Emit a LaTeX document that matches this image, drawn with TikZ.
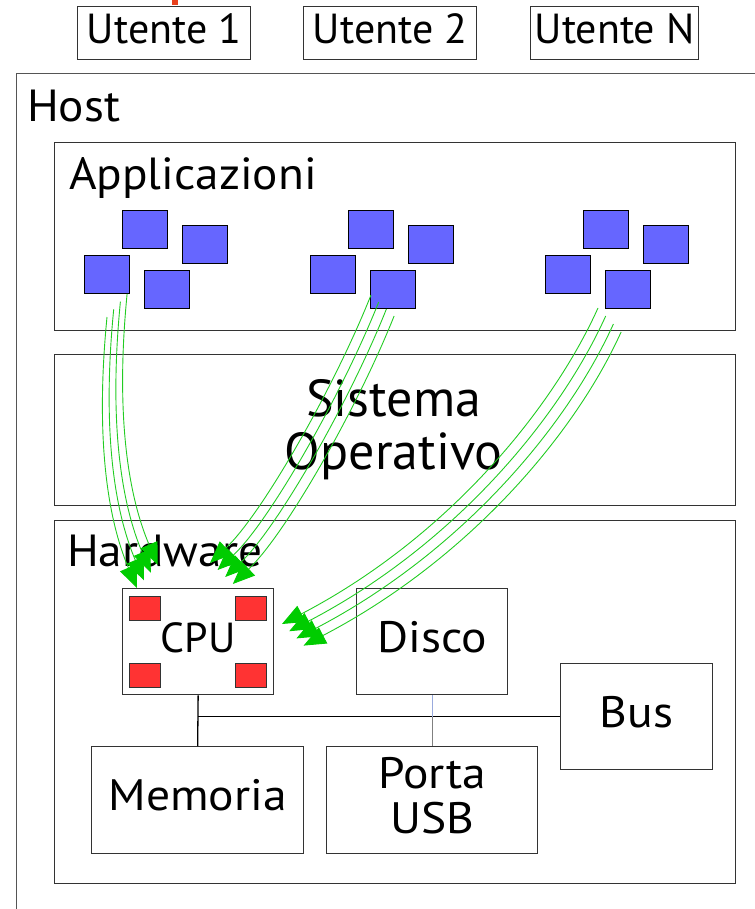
\documentclass[tikz,border=0pt]{standalone}
\usepackage{fontspec}
\setmainfont{PT Sans}
\newfontfamily\titlesans[FakeStretch=1.05]{PT Sans}
\newfontfamily\partsans[FakeStretch=1.08]{PT Sans}
\usetikzlibrary{arrows.meta}

\definecolor{boxline}{HTML}{333333}
\definecolor{hostline}{HTML}{555555}
\definecolor{appblue}{HTML}{6666FF}
\definecolor{cpured}{HTML}{FF3333}
\definecolor{flowline}{HTML}{22CC22}
\definecolor{flowhead}{HTML}{00CC00}
\definecolor{linkblue}{HTML}{99AADD}
\definecolor{marker}{HTML}{E8401C}

\tikzset{
  pane/.style={draw=boxline, line width=1.3pt, inner sep=0pt, anchor=north west},
  labelbox/.style={pane, font=\fontsize{42}{45}\selectfont, text height=30pt, text depth=9pt},
  partbox/.style={pane, font=\partsans\fontsize{44}{45}\selectfont, text height=31pt, text depth=10pt},
  title/.style={anchor=base west, inner sep=0pt, font=\titlesans\fontsize{45}{47}\selectfont},
  app/.style={draw=black, line width=1.2pt, fill=appblue, minimum width=45pt,
    minimum height=38pt, inner sep=0pt, anchor=north west},
  core/.style={draw=boxline, line width=1pt, fill=cpured, minimum width=31pt,
    minimum height=24pt, inner sep=0pt, anchor=north west},
  flow/.style={draw=flowline, line width=0.9pt,
    -{Triangle[length=22pt,width=18pt,fill=flowhead,color=flowhead]}},
  wire/.style={draw=black, line width=1.3pt},
}

\begin{document}
\begin{tikzpicture}[x=1pt,y=-1pt]
\useasboundingbox (0,0) rectangle (754,909);

% red marker at the top edge
\fill[marker] (172,0) rectangle (178,5);

% users
\node[labelbox, minimum width=173pt, minimum height=53pt] (u1) at (77,6) {Utente 1};
\node[labelbox, minimum width=173pt, minimum height=53pt] (u2) at (303,6) {Utente 2};
\node[labelbox, minimum width=168pt, minimum height=53pt] (uN) at (530,6) {Utente N};

% host and its layers
\node[pane, draw=hostline, minimum width=760pt, minimum height=860pt] (host) at (16,73) {};
\node[title] (hosttitle) at (27,122) {Host};

\node[pane, minimum width=681pt, minimum height=188pt] (apps) at (54,142) {};
\node[title] (appstitle) at (69,190) {Applicazioni};

\node[pane, minimum width=681pt, minimum height=151pt] (os) at (54,354) {};
\node[align=center, inner sep=0pt, font=\fontsize{52}{53}\selectfont]
     (ostext) at ([xshift=-1.5pt]os.center) {Sistema\\Operativo};

\node[pane, minimum width=681pt, minimum height=363pt] (hw) at (54,520) {};
\node[title] (hwtitle) at (67,566) {Hardware};

% hardware components
\node[labelbox, minimum width=151pt, minimum height=106pt] (cpu) at (122,588) {CPU};
\node[partbox, minimum width=151pt, minimum height=106pt] (disco) at (356,588) {Disco};
\node[partbox, minimum width=152pt, minimum height=106pt] (bus) at (560,663) {Bus};
\node[partbox, minimum width=212pt, minimum height=107pt] (mem) at (91,746) {Memoria};
\node[pane, minimum width=211pt, minimum height=107pt] (usb) at (326,746) {};
\node[align=center, inner sep=0pt, font=\partsans\fontsize{44}{45}\selectfont, yshift=4pt]
     (usbtext) at (usb.center) {Porta\\USB};

% cpu cores
\node[core] (c1) at (129,596) {};
\node[core] (c2) at (235,596) {};
\node[core] (c3) at (129,663) {};
\node[core] (c4) at (235,663) {};

% bus wiring
\draw[wire] (cpu.south) -- (mem.north);
\draw[wire] (cpu.south |- bus.west) -- (bus.west);
\draw[linkblue, line width=1.3pt] (disco.south) -- (disco.south |- bus.west) coordinate (busjoin);
\draw[gray, line width=1.3pt] (busjoin) -- (usb.north);

% application windows, three groups of four
\foreach \g/\gx in {1/0, 2/226, 3/461} {
  \node[app] (w\g a) at ({122+\gx},210) {};
  \node[app] (w\g b) at ({182+\gx},225) {};
  \node[app] (w\g c) at ({84+\gx},255) {};
  \node[app] (w\g d) at ({144+\gx},270) {};
}

% request flows from the applications down to the cpu
\foreach \i in {0,...,3} {
  \coordinate (g1s\i) at ({107+6.7*\i},{317-7.7*\i});
  \coordinate (g1t\i) at ({137+6.9*\i},{588-7.7*\i});
  \coordinate (g2s\i) at ({371+7.7*\i},{295+7*\i});
  \coordinate (g2t\i) at ({210+7.6*\i},{563+7*\i});
  \coordinate (g3s\i) at ({598+7.7*\i},{308+8*\i});
  \coordinate (g3t\i) at ({282+7.2*\i},{624+7.2*\i});
  \draw[flow] (g1s\i) .. controls +(-12,123) and +(-29,-68) .. (g1t\i);
  \draw[flow] (g2s\i) .. controls +(-37,93) and +(52,-49) .. (g2t\i);
  \draw[flow] (g3s\i) .. controls +(-46,102) and +(165,-86) .. (g3t\i);
}
\end{tikzpicture}
\end{document}
